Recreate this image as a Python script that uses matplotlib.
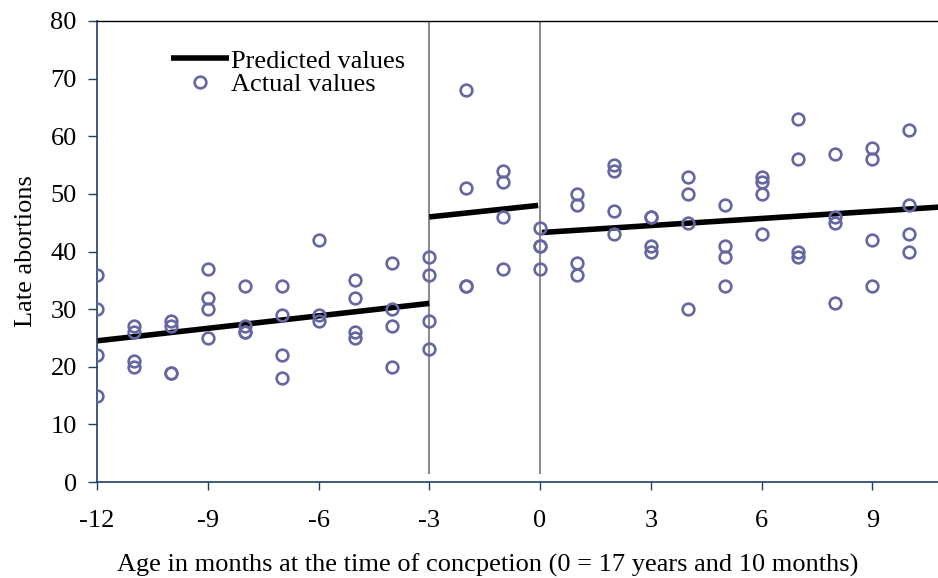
import matplotlib
matplotlib.use("Agg")
import matplotlib.pyplot as plt
import numpy as np

plt.rcParams['font.family'] = ['Liberation Serif', 'DejaVu Serif']
plt.rcParams['axes.unicode_minus'] = False

# actual late abortions per month of age at conception
months = [-12, -11, -10, -9, -8, -7, -6, -5, -4, -3, -2, -1, 0, 1, 2, 3, 4, 5, 6, 7, 8, 9, 10]
actual = [
    [36, 30, 22, 15],
    [27, 26, 21, 20],
    [28, 27, 19, 19],
    [37, 32, 30, 25],
    [34, 27, 26, 26],
    [34, 29, 22, 18],
    [42, 29, 28],
    [35, 32, 26, 25],
    [38, 30, 27, 20],
    [39, 36, 28, 23],
    [68, 51, 34, 34],
    [54, 52, 46, 37],
    [44, 41, 41, 37],
    [50, 48, 38, 36],
    [55, 54, 47, 43],
    [46, 46, 41, 40],
    [53, 50, 45, 30],
    [48, 41, 39, 34],
    [53, 52, 50, 43],
    [63, 56, 40, 39],
    [57, 46, 45, 31],
    [58, 56, 42, 34],
    [61, 48, 43, 40],
]

# predicted values: three fitted segments (start x, end x, start y, end y)
seg_x = [(-12, -3), (-3, -0.05), (0.05, 10.8)]
seg_y = [(24.5, 31.0), (46.0, 48.0), (43.3, 47.7)]

cutoffs = [-3, 0]

px = [m for m, vals in zip(months, actual) for v in vals]
py = [v for m, vals in zip(months, actual) for v in vals]

fs = 19

fig = plt.figure(figsize=(9.38, 5.78), dpi=100)
ax = fig.add_axes([0.1034, 0.166, 0.8966, 0.7977])

for c in cutoffs:
    ax.plot([c, c], [1.5, 80], color='#8c8c8c', lw=1.5, zorder=1)

for i, (sx, sy) in enumerate(zip(seg_x, seg_y)):
    ax.plot(sx, sy, color='black', lw=4, solid_capstyle='butt', zorder=2,
            label='Predicted values' if i == 0 else None)

ax.plot(px, py, 'o', ms=8.4, mfc='none', mec='#6666a3', mew=1.9, zorder=3,
        label='Actual values')

ax.set_xlim(-12, 10.78)
ax.set_ylim(0, 80)
ax.set_xticks([-12, -9, -6, -3, 0, 3, 6, 9])
ax.set_yticks(range(0, 81, 10))

navy = '#1f3f66'
ax.spines['left'].set_color(navy)
ax.spines['bottom'].set_color(navy)
ax.spines['left'].set_linewidth(1.2)
ax.spines['bottom'].set_linewidth(1.2)
ax.spines['top'].set_color('black')
ax.spines['top'].set_linewidth(1.0)
ax.spines['right'].set_visible(False)

ax.tick_params(axis='x', direction='out', length=6, width=1.0, color=navy,
               labelsize=fs, pad=14)
ax.tick_params(axis='y', direction='out', length=6.5, width=1.0, color=navy,
               labelsize=fs, pad=8)

ax.set_xlabel('Age in months at the time of concpetion (0 = 17 years and 10 months)',
              fontsize=fs)
ax.xaxis.set_label_coords(0.464, -0.155)
ax.set_ylabel('Late abortions', fontsize=fs, labelpad=10)

ax.legend(loc='upper left', bbox_to_anchor=(0.075, 0.962), frameon=False,
          fontsize=fs, handlelength=2.2, handletextpad=0.1, labelspacing=0.0,
          borderaxespad=0)

fig.savefig('out.png', dpi=100)
